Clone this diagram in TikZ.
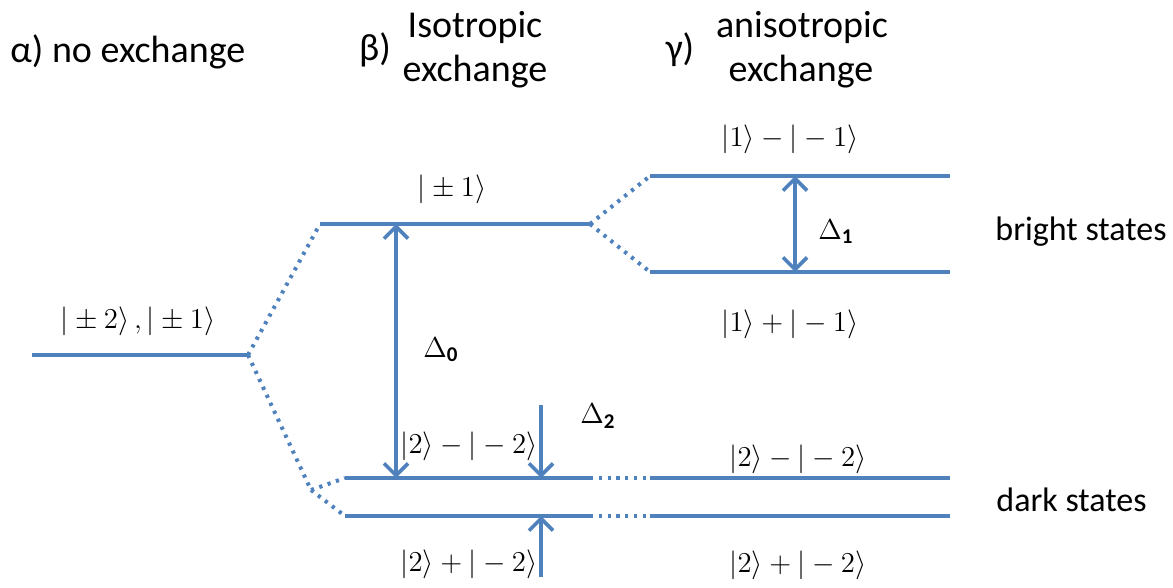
\documentclass[tikz,border=0pt]{standalone}
\usepackage[no-math]{fontspec}
\setmainfont{Carlito}
\usetikzlibrary{arrows.meta}
\definecolor{lvl}{HTML}{4F81BD}
\newcommand{\kt}[1]{\left|\rule[-4pt]{0pt}{13pt}#1\right\rangle}
\tikzset{
  level/.style={draw=lvl, line width=2pt},
  dots/.style={draw=lvl, line width=2pt, dash pattern=on 1.6pt off 2.8pt},
  gap/.style={draw=lvl, line width=1.8pt, {Straight Barb[length=6pt,width=12pt,line width=1.8pt]}-{Straight Barb[length=6pt,width=12pt,line width=1.8pt]}},
  onearrow/.style={draw=lvl, line width=1.8pt, -{Straight Barb[length=6pt,width=12pt,line width=1.8pt]}},
  head/.style={font=\fontsize{19}{22}\selectfont, inner sep=0pt},
  ket/.style={font=\fontsize{13.5}{16}\selectfont, inner sep=0pt},
  dlabel/.style={font=\fontsize{15}{17}\selectfont\bfseries, inner sep=0pt},
  side/.style={font=\fontsize{17}{20}\selectfont, inner sep=0pt}
}
\begin{document}
\begin{tikzpicture}[x=0.5pt,y=-0.5pt]
\useasboundingbox (0,0) rectangle (1173,588);
% coordinates
\coordinate (a0) at (32,355);
\coordinate (a1) at (248,355);
\coordinate (b1s) at (320,224);
\coordinate (b1e) at (590,224);
\coordinate (split) at (311,490);
\coordinate (bd1s) at (345,478);
\coordinate (bd1e) at (590,478);
\coordinate (bd2s) at (345,516);
\coordinate (bd2e) at (590,516);
\coordinate (c1s) at (650,176);
\coordinate (c1e) at (950,176);
\coordinate (c2s) at (650,272);
\coordinate (c2e) at (950,272);
\coordinate (cd1s) at (650,478);
\coordinate (cd1e) at (950,478);
\coordinate (cd2s) at (650,516);
\coordinate (cd2e) at (950,516);
% levels
\draw[level] (a0) -- (a1);
\draw[level] (b1s) -- (b1e);
\draw[level] (bd1s) -- (bd1e);
\draw[level] (bd2s) -- (bd2e);
\draw[level] (c1s) -- (c1e);
\draw[level] (c2s) -- (c2e);
\draw[level] (cd1s) -- (cd1e);
\draw[level] (cd2s) -- (cd2e);
% dotted correlations
\draw[dots] (a1) -- (b1s);
\draw[dots] (a1) -- (split);
\draw[dots] (split) -- (bd1s);
\draw[dots] (split) -- (bd2s);
\draw[dots] (b1e) -- (c1s);
\draw[dots] (b1e) -- (c2s);
\draw[dots] (bd1e) -- (cd1s);
\draw[dots] (bd2e) -- (cd2s);
% gaps
\coordinate (d0t) at (396,224);
\coordinate (d0b) at (396,478);
\draw[gap] (d0t) -- (d0b);
\coordinate (d1t) at (795,176);
\coordinate (d1b) at (795,272);
\draw[gap] (d1t) -- (d1b);
\coordinate (d2a) at (541,405);
\coordinate (d2b) at (541,478);
\draw[onearrow] (d2a) -- (d2b);
\coordinate (d2c) at (541,577);
\coordinate (d2d) at (541,516);
\draw[onearrow] (d2c) -- (d2d);
% labels
\node[dlabel] (L0) at (441,350) {$\Delta$\textsubscript{0}};
\node[dlabel] (L1) at (836,232) {$\Delta$\textsubscript{1}};
\node[dlabel] (L2) at (598,416) {$\Delta$\textsubscript{2}};
\node[ket] (k1) at (138,322) {$\kt{\pm 2},\kt{\pm 1}$};
\node[ket] (k2) at (452,190) {$\kt{\pm 1}$};
\node[ket] (k3) at (790,140) {$\kt{1}-\kt{-1}$};
\node[ket] (k4) at (790,325) {$\kt{1}+\kt{-1}$};
\node[ket] (k5) at (469,447) {$\kt{2}-\kt{-2}$};
\node[ket] (k6) at (469,565) {$\kt{2}+\kt{-2}$};
\node[ket] (k7) at (798,460) {$\kt{2}-\kt{-2}$};
\node[ket] (k8) at (798,566) {$\kt{2}+\kt{-2}$};
\node[side, anchor=west] (bs) at (995,232) {bright states};
\node[side, anchor=west] (ds) at (996,500) {dark states};
% headers
\node[head, anchor=west] (ha) at (10,52) {α) no exchange};
\node[head] (hb) at (375,50) {β)};
\node[head] (hb1) at (475,27) {Isotropic};
\node[head] (hb2) at (475,72) {exchange};
\node[head] (hc) at (680,50) {γ)};
\node[head] (hc1) at (802,27) {anisotropic};
\node[head] (hc2) at (801,72) {exchange};
\end{tikzpicture}
\end{document}
